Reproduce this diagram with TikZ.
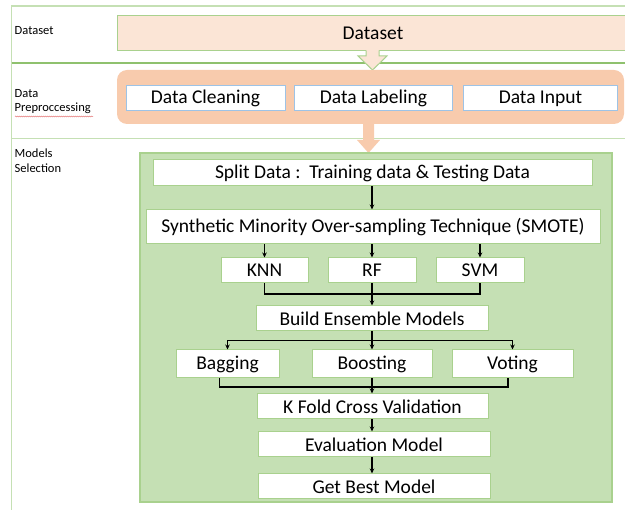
\documentclass[tikz,border=0pt]{standalone}
\usepackage{fontspec}
\setmainfont{Carlito}
\usetikzlibrary{arrows.meta,decorations.pathmorphing}
\definecolor{peach}{HTML}{FBE5D6}
\definecolor{orangefill}{HTML}{F8CBAD}
\definecolor{greenfill}{HTML}{C5E0B4}
\definecolor{greenline}{HTML}{A9D18E}
\definecolor{darkgreenline}{HTML}{8FC16E}
\definecolor{lightgreenline}{HTML}{C5E0B4}
\definecolor{blueline}{HTML}{9DC3E6}
\definecolor{spellred}{HTML}{E06666}
\tikzset{
  x=1pt, y=-1pt,
  lanelabel/.style={anchor=north west, align=left, inner sep=0pt,
    font=\fontsize{12.5}{14.5}\selectfont},
  stagebox/.style={draw=greenline, line width=1pt, fill=white, inner sep=0pt,
    font=\fontsize{19.5}{22}\selectfont},
  prepbox/.style={draw=blueline, line width=1pt, fill=white, inner sep=0pt,
    font=\fontsize{19.5}{22}\selectfont},
  flow/.style={line width=1.1pt, -{Stealth[length=5pt,width=4.5pt]}},
  joinline/.style={line width=1.1pt},
}
\begin{document}
\begin{tikzpicture}
\useasboundingbox (0,0) rectangle (625,510);

% lane frame
\draw[lightgreenline, line width=1.5pt] (625,6) -- (11.5,6) -- (11.5,510);
\draw[darkgreenline, line width=2pt] (11.5,63) -- (625,63);
\draw[lightgreenline, line width=1.5pt] (11.5,138.5) -- (625,138.5);

% lane labels
\node[lanelabel] (laneA) at (14.5,26) {Dataset};
\node[lanelabel] (laneB) at (14.5,89) {Data\\Preproccessing};
\node[lanelabel] (laneC) at (14.5,149) {Models\\Selection};
\draw[spellred, line width=0.5pt,
  decorate, decoration={snake, amplitude=0.5pt, segment length=2pt}]
  (15,116.5) -- (93,116.5);

% dataset band
\node[draw=greenline, line width=1pt, fill=peach, minimum width=512pt,
  minimum height=35pt, inner sep=0pt, font=\fontsize{19.5}{22}\selectfont]
  (dataset) at (373,33.5) {Dataset};

% hollow arrow out of the dataset band
\fill[peach] (366,49) -- (366,56) -- (358,56) -- (372.5,70) -- (387,56)
  -- (379,56) -- (379,49) -- cycle;
\draw[greenline, line width=1pt] (366,50.5) -- (366,56) -- (358,56)
  -- (372.5,70) -- (387,56) -- (379,56) -- (379,50.5);

% preprocessing band
\node[fill=orangefill, rounded corners=10pt, minimum width=507pt,
  minimum height=54pt, inner sep=0pt] (prep) at (370.5,97) {};
\node[prepbox, minimum width=159pt, minimum height=25pt] (clean) at (205.5,98.5) {Data Cleaning};
\node[prepbox, minimum width=158pt, minimum height=25pt] (label) at (373.5,98.5) {Data Labeling};
\node[prepbox, minimum width=154pt, minimum height=25pt] (input) at (540.5,98.5) {Data Input};

% block arrow into model selection
\fill[orangefill] (363,123) -- (363,140) -- (357,140) -- (368.5,153)
  -- (380,140) -- (374,140) -- (374,123) -- cycle;

% model selection panel
\node[draw=greenline, line width=1.5pt, fill=greenfill, minimum width=472pt,
  minimum height=349pt, inner sep=0pt] (panel) at (376,327.5) {};

\node[stagebox, minimum width=439pt, minimum height=26pt] (split) at (372.5,173)
  {Split Data :\ \ Training data \& Testing Data};
\node[stagebox, minimum width=454pt, minimum height=34pt] (smote) at (373,227)
  {Synthetic Minority Over-sampling Technique (SMOTE)};
\node[stagebox, minimum width=87pt, minimum height=25pt] (knn) at (264.5,270.5) {KNN};
\node[stagebox, minimum width=88pt, minimum height=25pt] (rf) at (372,270.5) {RF};
\node[stagebox, minimum width=88pt, minimum height=25pt] (svm) at (480,270.5) {SVM};
\node[stagebox, minimum width=232pt, minimum height=25pt] (build) at (372,318.5) {Build Ensemble Models};
\node[stagebox, minimum width=103pt, minimum height=28pt] (bag) at (227.5,364) {Bagging};
\node[stagebox, minimum width=120pt, minimum height=28pt] (boost) at (372,364) {Boosting};
\node[stagebox, minimum width=121pt, minimum height=28pt] (vote) at (512.5,364) {Voting};
\node[stagebox, minimum width=231pt, minimum height=25pt] (kfold) at (372.5,406.5) {K Fold Cross Validation};
\node[stagebox, minimum width=232pt, minimum height=25pt] (eval) at (374,444.5) {Evaluation Model};
\node[stagebox, minimum width=232pt, minimum height=25pt] (best) at (374,486.5) {Get Best Model};

% connectors
\draw[flow] (split.south -| rf) -- (smote.north -| rf);
\draw[flow] (smote.south -| knn) -- (knn.north);
\draw[flow] (smote.south -| rf) -- (rf.north);
\draw[flow] (smote.south -| svm) -- (svm.north);
\coordinate (mergeA) at (372,294);
\draw[joinline] (knn.south) |- (mergeA) -| (svm.south);
\draw[flow] (rf.south) -- (build.north -| rf);
\coordinate (forkB) at (372,340.5);
\draw[joinline] (build.south -| rf) -- (forkB);
\draw[flow] (forkB) -| (bag.north);
\draw[flow] (forkB) -| (vote.north);
\draw[flow] (forkB) -- (boost.north);
\coordinate (mergeC) at (372,387);
\draw[joinline] ([xshift=-8pt]bag.south) |- (mergeC) -| ([xshift=-4.5pt]vote.south);
\draw[flow] (boost.south) -- (kfold.north -| boost);
\draw[flow] (kfold.south -| boost) -- (eval.north -| boost);
\draw[flow] (eval.south -| boost) -- (best.north -| boost);
\end{tikzpicture}
\end{document}
